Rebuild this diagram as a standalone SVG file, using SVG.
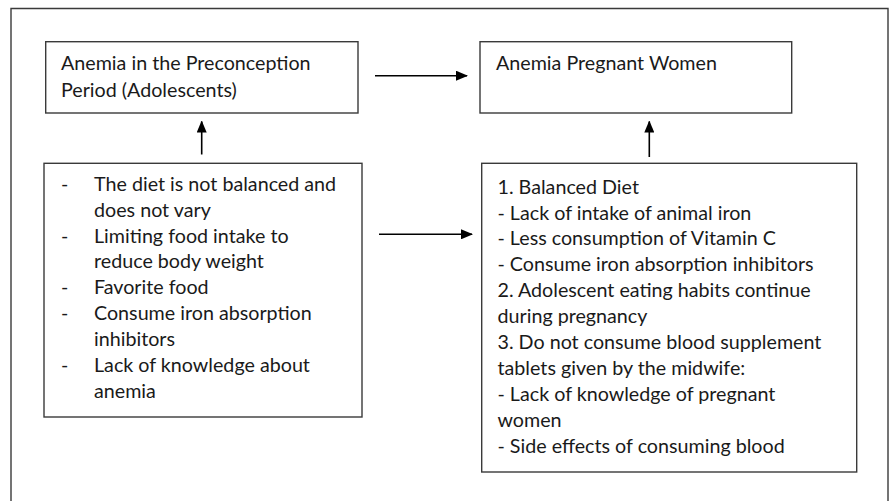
<svg xmlns="http://www.w3.org/2000/svg" width="893" height="501" viewBox="0 0 893 501">
<style>
.box{fill:#fff;stroke:#3a3a3a;stroke-width:1.4}
.t{font-family:Lato,"Liberation Sans",sans-serif;font-size:19.7px;fill:#1a1a1a}
.c{stroke:#000;stroke-width:1.6;fill:none}
</style>
<defs>
<marker id="ah" markerWidth="12" markerHeight="10" refX="11" refY="5" orient="auto" markerUnits="userSpaceOnUse">
<path d="M0,0 L12,5 L0,10 z" fill="#000"/>
</marker>
<clipPath id="clip4"><rect x="482" y="164" width="374" height="299"/></clipPath>
</defs>
<rect x="0" y="0" width="893" height="501" fill="#fff"/>
<path d="M11,501 V8.5 H888 V501" fill="none" stroke="#3a3a3a" stroke-width="1.4"/>
<g id="n1">
<rect class="box" x="45.7" y="41.7" width="312.3" height="71.3"/>
<text class="t" x="61" y="70">Anemia in the Preconception</text>
<text class="t" x="61" y="96.5">Period (Adolescents)</text>
</g>
<g id="n2">
<rect class="box" x="480" y="41.7" width="311.7" height="71.3"/>
<text class="t" x="496" y="70">Anemia Pregnant Women</text>
</g>
<g id="n3">
<rect class="box" x="44" y="163.3" width="318" height="253.7"/>
<g class="t">
<text x="61" y="190.8">-</text><text x="94" y="190.8">The diet is not balanced and</text>
<text x="94" y="216.7">does not vary</text>
<text x="61" y="242.5">-</text><text x="94" y="242.5">Limiting food intake to</text>
<text x="94" y="268.4">reduce body weight</text>
<text x="61" y="294.3">-</text><text x="94" y="294.3">Favorite food</text>
<text x="61" y="320.2">-</text><text x="94" y="320.2">Consume iron absorption</text>
<text x="94" y="346">inhibitors</text>
<text x="61" y="371.9">-</text><text x="94" y="371.9">Lack of knowledge about</text>
<text x="94" y="397.8">anemia</text>
</g>
</g>
<g id="n4">
<rect class="box" x="481.7" y="163.3" width="375" height="308.7"/>
<g class="t" clip-path="url(#clip4)">
<text x="497.5" y="193.5">1. Balanced Diet</text>
<text x="497.5" y="219.5">- Lack of intake of animal iron</text>
<text x="497.5" y="245.4">- Less consumption of Vitamin C</text>
<text x="497.5" y="271.3">- Consume iron absorption inhibitors</text>
<text x="497.5" y="297.2">2. Adolescent eating habits continue</text>
<text x="497.5" y="323.1">during pregnancy</text>
<text x="497.5" y="349">3. Do not consume blood supplement</text>
<text x="497.5" y="374.9">tablets given by the midwife:</text>
<text x="497.5" y="400.8">- Lack of knowledge of pregnant</text>
<text x="497.5" y="426.7">women</text>
<text x="497.5" y="452.6">- Side effects of consuming blood</text>
</g>
</g>
<g id="connectors">
<line class="c" x1="375" y1="75.7" x2="467" y2="75.7" marker-end="url(#ah)"/>
<line class="c" x1="379" y1="234.3" x2="472" y2="234.3" marker-end="url(#ah)"/>
<line class="c" x1="201.7" y1="154.5" x2="201.7" y2="121.5" marker-end="url(#ah)"/>
<line class="c" x1="649.3" y1="157" x2="649.3" y2="121.5" marker-end="url(#ah)"/>
</g>
</svg>
